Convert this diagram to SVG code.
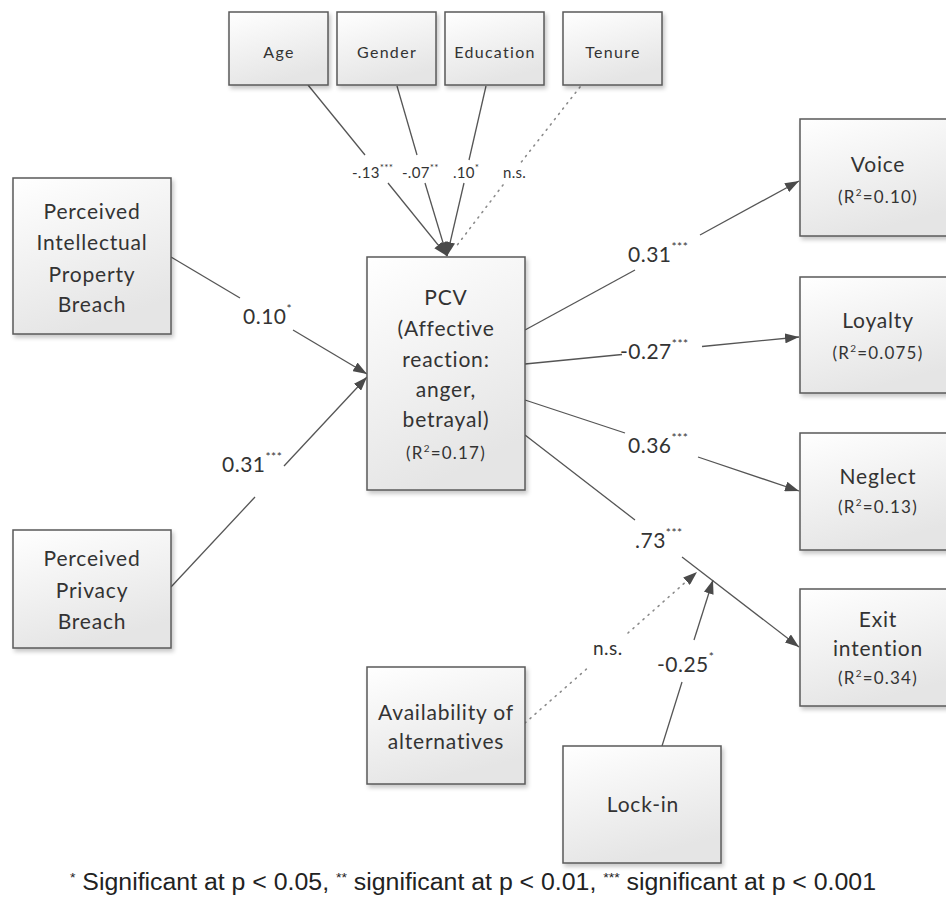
<svg xmlns="http://www.w3.org/2000/svg" width="946" height="908" viewBox="0 0 946 908">
<defs>
<linearGradient id="g" x1="0" y1="0" x2="0.35" y2="1">
<stop offset="0" stop-color="#ffffff"/>
<stop offset="1" stop-color="#e5e5e5"/>
</linearGradient>
<filter id="sh" x="-10%" y="-10%" width="130%" height="130%">
<feDropShadow dx="2" dy="3" stdDeviation="2" flood-color="#000" flood-opacity="0.22"/>
</filter>
<marker id="ah" viewBox="0 0 14 10" refX="14" refY="5" markerWidth="14" markerHeight="10" markerUnits="userSpaceOnUse" orient="auto">
<path d="M0,0 L14,5 L0,10 z" fill="#4a4a4a"/>
</marker>
<style>
.box{fill:url(#g);stroke:#5a5a5a;stroke-width:1.5;filter:url(#sh)}
.t{font-family:Lato,"Open Sans","Liberation Sans",sans-serif;fill:#333;text-anchor:middle}
.big{font-size:21px;letter-spacing:0.8px}
.ctl{font-size:16px;letter-spacing:1.3px}
.r2{font-size:17px;letter-spacing:1.2px}
.sup{font-size:10px}
.lab{font-family:Lato,"Open Sans","Liberation Sans",sans-serif;fill:#333;font-size:21px;letter-spacing:0.5px}
.slab{font-family:Lato,"Open Sans","Liberation Sans",sans-serif;fill:#333;font-size:15px;letter-spacing:0.3px}
.ln{stroke:#555;stroke-width:1.3;fill:none}
.dt{stroke:#8a8a8a;stroke-width:1.6;fill:none;stroke-dasharray:1.2 5.5;stroke-linecap:round}
.foot{font-family:"Liberation Sans",Arial,sans-serif;fill:#222;font-size:23px}
</style>
</defs>
<rect width="946" height="908" fill="#fff"/>

<g id="connectors">
<line class="ln" x1="308" y1="85" x2="365" y2="155"/>
<line class="ln" x1="388" y1="183" x2="447" y2="256" marker-end="url(#ah)"/>
<line class="ln" x1="397" y1="86" x2="417" y2="155"/>
<line class="ln" x1="425" y1="183" x2="447" y2="256" marker-end="url(#ah)"/>
<line class="ln" x1="486" y1="86" x2="469" y2="160"/>
<line class="ln" x1="464" y1="183" x2="447" y2="256" marker-end="url(#ah)"/>
<line class="dt" x1="580" y1="87" x2="519" y2="165"/>
<line class="dt" x1="503" y1="185" x2="455" y2="248"/>
<line class="ln" x1="171" y1="257" x2="240" y2="298"/>
<line class="ln" x1="293" y1="330" x2="367" y2="374" marker-end="url(#ah)"/>
<line class="ln" x1="171" y1="587" x2="255" y2="497"/>
<line class="ln" x1="284" y1="466" x2="367" y2="377" marker-end="url(#ah)"/>
<line class="ln" x1="525" y1="330" x2="635" y2="270"/>
<line class="ln" x1="700" y1="235" x2="799" y2="181" marker-end="url(#ah)"/>
<line class="ln" x1="525" y1="364" x2="622" y2="354.5"/>
<line class="ln" x1="702" y1="346.5" x2="799" y2="337" marker-end="url(#ah)"/>
<line class="ln" x1="525" y1="400" x2="625" y2="433"/>
<line class="ln" x1="698" y1="457" x2="799" y2="491" marker-end="url(#ah)"/>
<line class="ln" x1="525" y1="435" x2="635" y2="520"/>
<line class="ln" x1="682" y1="557" x2="799" y2="647" marker-end="url(#ah)"/>
<line class="dt" x1="525" y1="723" x2="590" y2="666"/>
<line class="dt" x1="628" y1="633" x2="697" y2="572" marker-end="url(#ah)"/>
<line class="ln" x1="662" y1="746" x2="682" y2="682"/>
<line class="ln" x1="694" y1="640" x2="713" y2="580" marker-end="url(#ah)"/>
</g>

<g id="labels">
<text class="slab" x="352" y="178">-.13<tspan class="sup" dy="-7">***</tspan></text>
<text class="slab" x="402" y="178">-.07<tspan class="sup" dy="-7">**</tspan></text>
<text class="slab" x="453" y="178">.10<tspan class="sup" dy="-7">*</tspan></text>
<text class="slab" x="503" y="178">n.s.</text>
<text class="lab" x="243" y="324">0.10<tspan font-size="12" dy="-11">*</tspan></text>
<text class="lab" x="222" y="472">0.31<tspan font-size="12" dy="-11">***</tspan></text>
<text class="lab" x="628" y="262">0.31<tspan font-size="12" dy="-11">***</tspan></text>
<text class="lab" x="620" y="359">-0.27<tspan font-size="12" dy="-11">***</tspan></text>
<text class="lab" x="628" y="453">0.36<tspan font-size="12" dy="-11">***</tspan></text>
<text class="lab" x="635" y="548">.73<tspan font-size="12" dy="-11">***</tspan></text>
<text class="lab" x="593" y="655" style="font-size:19px">n.s.</text>
<text class="lab" x="657" y="672">-0.25<tspan font-size="12" dy="-11">*</tspan></text>
</g>

<g id="age"><rect class="box" x="229" y="12" width="99" height="73"/><text class="t ctl" x="279" y="58">Age</text></g>
<g id="gender"><rect class="box" x="337" y="12" width="99" height="73"/><text class="t ctl" x="387" y="58">Gender</text></g>
<g id="education"><rect class="box" x="445" y="12" width="99" height="73"/><text class="t ctl" x="495" y="58">Education</text></g>
<g id="tenure"><rect class="box" x="563" y="12" width="99" height="73"/><text class="t ctl" x="613" y="58">Tenure</text></g>

<g id="pipb"><rect class="box" x="13" y="178" width="158" height="156"/>
<text class="t big" x="92" y="219">Perceived</text>
<text class="t big" x="92" y="250">Intellectual</text>
<text class="t big" x="92" y="282">Property</text>
<text class="t big" x="92" y="312">Breach</text></g>

<g id="ppb"><rect class="box" x="13" y="530" width="158" height="118"/>
<text class="t big" x="92" y="566">Perceived</text>
<text class="t big" x="92" y="598">Privacy</text>
<text class="t big" x="92" y="629">Breach</text></g>

<g id="pcv"><rect class="box" x="367" y="257" width="158" height="233"/>
<text class="t big" x="446" y="305">PCV</text>
<text class="t big" x="446" y="336">(Affective</text>
<text class="t big" x="446" y="367">reaction:</text>
<text class="t big" x="446" y="397">anger,</text>
<text class="t big" x="446" y="427">betrayal)</text>
<text class="t r2" x="446" y="459">(R<tspan class="sup" dy="-7">2</tspan><tspan dy="7">=0.17)</tspan></text></g>

<g id="voice"><rect class="box" x="800" y="119" width="154" height="117"/>
<text class="t big" x="878" y="172">Voice</text>
<text class="t r2" x="878" y="203">(R<tspan class="sup" dy="-7">2</tspan><tspan dy="7">=0.10)</tspan></text></g>

<g id="loyalty"><rect class="box" x="800" y="277" width="154" height="116"/>
<text class="t big" x="878" y="328">Loyalty</text>
<text class="t r2" x="878" y="359">(R<tspan class="sup" dy="-7">2</tspan><tspan dy="7">=0.075)</tspan></text></g>

<g id="neglect"><rect class="box" x="800" y="433" width="154" height="117"/>
<text class="t big" x="878" y="484">Neglect</text>
<text class="t r2" x="878" y="513">(R<tspan class="sup" dy="-7">2</tspan><tspan dy="7">=0.13)</tspan></text></g>

<g id="exit"><rect class="box" x="800" y="589" width="154" height="117"/>
<text class="t big" x="878" y="627">Exit</text>
<text class="t big" x="878" y="656">intention</text>
<text class="t r2" x="878" y="684">(R<tspan class="sup" dy="-7">2</tspan><tspan dy="7">=0.34)</tspan></text></g>

<g id="availability"><rect class="box" x="367" y="667" width="158" height="117"/>
<text class="t big" x="446" y="720">Availability of</text>
<text class="t big" x="446" y="749">alternatives</text></g>

<g id="lockin"><rect class="box" x="563" y="746" width="158" height="117"/>
<text class="t big" x="643" y="812">Lock-in</text></g>

<text class="foot" x="70" y="890" textLength="806" lengthAdjust="spacingAndGlyphs"><tspan font-size="13" dy="-8">*</tspan><tspan dy="8"> Significant at p &lt; 0.05, </tspan><tspan font-size="13" dy="-8">**</tspan><tspan dy="8"> significant at p &lt; 0.01, </tspan><tspan font-size="13" dy="-8">***</tspan><tspan dy="8"> significant at p &lt; 0.001</tspan></text>
</svg>
